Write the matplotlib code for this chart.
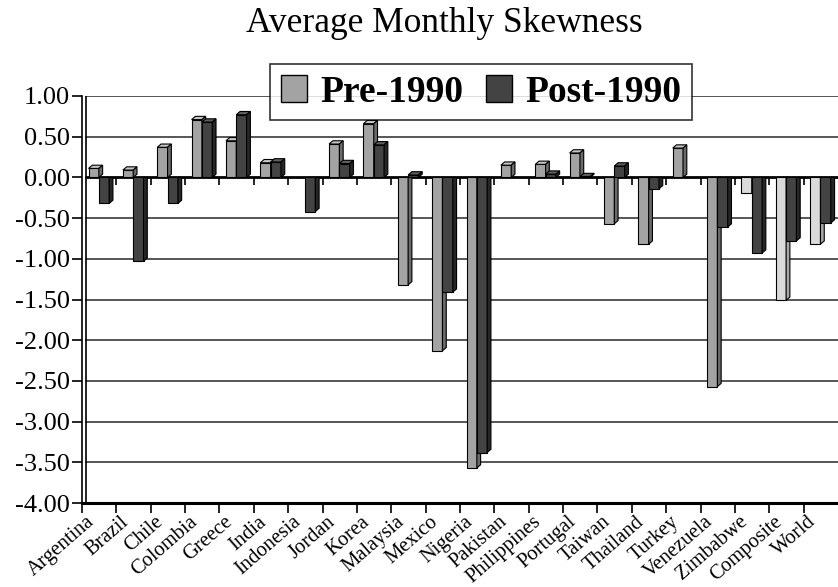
import numpy as np
import matplotlib
matplotlib.use("Agg")
import matplotlib.pyplot as plt
import matplotlib.transforms as mtransforms
from matplotlib.patches import Polygon, Patch

plt.rcParams['font.family'] = ['Liberation Serif', 'DejaVu Serif']
plt.rcParams['axes.unicode_minus'] = False

# ---- data ----
countries = ["Argentina", "Brazil", "Chile", "Colombia", "Greece", "India",
             "Indonesia", "Jordan", "Korea", "Malaysia", "Mexico", "Nigeria",
             "Pakistan", "Philippines", "Portugal", "Taiwan", "Thailand",
             "Turkey", "Venezuela", "Zimbabwe", "Composite", "World"]
pre_1990 = [0.11, 0.09, 0.37, 0.71, 0.45, 0.18, 0.00, 0.41, 0.66, -1.32,
            -2.13, -3.57, 0.15, 0.16, 0.30, -0.57, -0.82, 0.36, -2.57,
            -0.19, -1.51, -0.82]
post_1990 = [-0.32, -1.03, -0.32, 0.68, 0.77, 0.19, -0.42, 0.17, 0.40, 0.03,
             -1.41, -3.38, 0.00, 0.04, 0.01, 0.14, -0.14, 0.00, -0.61,
             -0.93, -0.78, -0.56]
y_ticks = [1.0, 0.5, 0.0, -0.5, -1.0, -1.5, -2.0, -2.5, -3.0, -3.5, -4.0]

# pre-1990 bars drawn in a lighter grey in the original
light_pre = ["Zimbabwe", "Composite", "World"]

# ---- styles ----
PRE = ("#a3a3a3", "#6a6a6a", "#c4c4c4")      # front, side, top
PRE_LIGHT = ("#dadada", "#a8a8a8", "#ececec")
POST = ("#434343", "#262626", "#5e5e5e")
BW = 0.30        # bar width (category units)
DX = 0.11        # 3d depth, x
DY = 0.04        # 3d depth, y

fig = plt.figure(figsize=(8.38, 5.87), dpi=100)
ax = fig.add_axes([82 / 838, 1 - 503 / 587, (838 - 82) / 838, (503 - 96) / 587])

n = len(countries)
x = np.arange(n)


def bar3d(x0, v, cols):
    if v == 0:
        return
    front, side, top = cols
    ax.bar(x0, v, width=BW, align='edge', color=front, edgecolor='black',
           linewidth=0.8, zorder=3)
    x1 = x0 + BW
    if v > 0:
        sp = [(x1, 0), (x1 + DX, DY), (x1 + DX, v + DY), (x1, v)]
        tp = [(x0, v), (x0 + DX, v + DY), (x1 + DX, v + DY), (x1, v)]
        ax.add_patch(Polygon(tp, closed=True, facecolor=top,
                             edgecolor='black', linewidth=0.8, zorder=3))
    else:
        sp = [(x1, v), (x1 + DX, v + DY), (x1 + DX, 0), (x1, 0)]
    ax.add_patch(Polygon(sp, closed=True, facecolor=side,
                         edgecolor='black', linewidth=0.8, zorder=3))


for i, name in enumerate(countries):
    pc = PRE_LIGHT if name in light_pre else PRE
    bar3d(x[i] + 0.19, pre_1990[i], pc)
    bar3d(x[i] + 0.19 + BW, post_1990[i], POST)

# gridlines on back wall
for yv in y_ticks:
    if yv in (0.0, -4.0):
        continue
    ax.plot([DX, n], [yv, yv], color='#3a3a3a', lw=1.2, zorder=1)
# zero "floor" line with tick marks
ax.plot([DX, n], [0, 0], color='black', lw=2.0, zorder=2)
ax.vlines(x[1:], -0.09, 0, color='black', lw=1.2, zorder=2)
# back wall edge
ax.plot([DX, DX], [-4, 1], color='black', lw=1.2, zorder=2)

ax.set_xlim(0, n)
ax.set_ylim(-4, 1)

ax.set_yticks(y_ticks)
ax.set_yticklabels([f"{v:.2f}" for v in y_ticks], fontsize=19)
ax.tick_params(axis='y', length=7, width=1.2, pad=2)

ax.set_xticks(x, minor=True)
ax.set_xticks(x + 0.5)
ax.set_xticklabels(countries, rotation=41, ha='right', va='center',
                   rotation_mode='anchor', fontsize=14.8)
ax.tick_params(axis='x', which='major', length=0, pad=12)
ax.tick_params(axis='x', which='minor', length=7, width=1.2)
shift = mtransforms.ScaledTranslation(-7 / 100, 0, fig.dpi_scale_trans)
for lab in ax.get_xticklabels():
    lab.set_transform(lab.get_transform() + shift)

for s in ("top", "right"):
    ax.spines[s].set_visible(False)
ax.spines['left'].set_linewidth(1.2)
ax.spines['bottom'].set_linewidth(2.2)

handles = [Patch(facecolor=PRE[0], edgecolor='black', linewidth=1.0),
           Patch(facecolor=POST[0], edgecolor='black', linewidth=1.0)]
leg = fig.legend(handles, ["Pre-1990", "Post-1990"], ncol=2,
                 loc='center', bbox_to_anchor=(481 / 838, 1 - 92 / 587),
                 prop={'weight': 'bold', 'size': 27},
                 frameon=True, fancybox=False, edgecolor='black',
                 handlelength=0.7, handleheight=0.7, handletextpad=0.35,
                 columnspacing=0.6, borderpad=0.28, borderaxespad=0)
leg.get_frame().set_linewidth(1.2)
leg.set_zorder(10)

fig.text(444 / 838, 1 - 24 / 587, "Average Monthly Skewness",
         ha='center', va='center', fontsize=25.5)

fig.savefig("out.png", dpi=100)
